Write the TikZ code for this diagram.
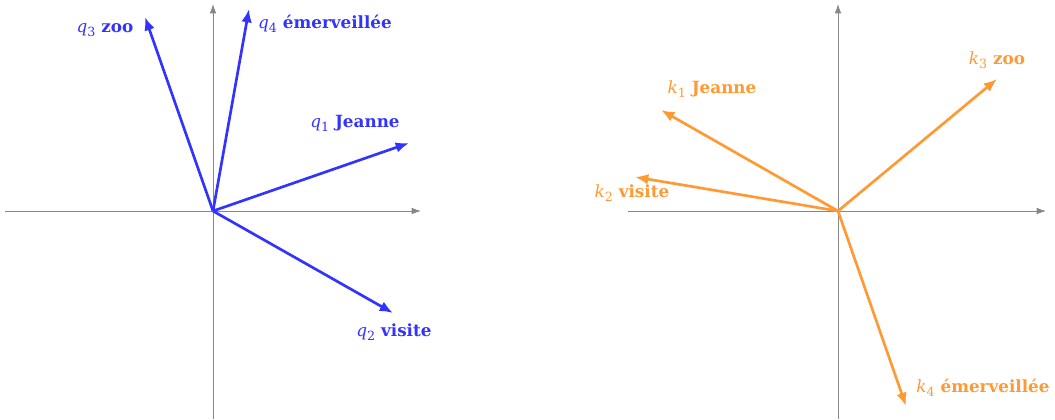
\documentclass[tikz,border=0pt]{standalone}
\usepackage{fontspec}
\setmainfont{DejaVu Serif}
\usetikzlibrary{arrows.meta}
\definecolor{qblue}{RGB}{51,51,255}
\definecolor{korange}{RGB}{255,153,51}
\definecolor{axisgray}{RGB}{135,135,135}
\newcommand\vlab[3]{\textit{#1}\raisebox{-0.45ex}{\fontsize{9.5}{10}\selectfont #2}\hspace{0.35em}\textbf{#3}}
\tikzset{
  axisline/.style={draw=axisgray, line width=0.7pt, -{Latex[length=7pt,width=5pt]}},
  qvec/.style={draw=qblue, line width=2pt, -{Latex[length=10pt,width=8pt]}},
  kvec/.style={draw=korange, line width=2pt, -{Latex[length=10pt,width=8pt]}},
  qlab/.style={text=qblue, font=\fontsize{12.6}{14}\selectfont, inner sep=0pt},
  klab/.style={text=korange, font=\fontsize{12.6}{14}\selectfont, inner sep=0pt},
}
\begin{document}
\begin{tikzpicture}[x=0.75pt, y=-0.75pt]
\useasboundingbox (0,0) rectangle (1055,419);
% left panel
\coordinate (oL) at (213,211);
\coordinate (axLw) at (5,211);
\coordinate (axLe) at (421,211);
\coordinate (axLs) at (213,419);
\coordinate (axLn) at (213,4);
\draw[axisline] (axLw) -- (axLe);
\draw[axisline] (axLs) -- (axLn);
\coordinate (q1) at (409,143);
\coordinate (q2) at (393,313);
\coordinate (q3) at (145,17);
\coordinate (q4) at (249,9);
\draw[qvec] (oL) -- (q1);
\draw[qvec] (oL) -- (q2);
\draw[qvec] (oL) -- (q3);
\draw[qvec] (oL) -- (q4);
\node[qlab] (lq1) at (355,123) {\vlab{q}{1}{Jeanne}};
\node[qlab] (lq2) at (394,332) {\vlab{q}{2}{visite}};
\node[qlab] (lq3) at (105,30) {\vlab{q}{3}{zoo}};
\node[qlab] (lq4) at (325,24) {\vlab{q}{4}{émerveillée}};
% right panel
\coordinate (oR) at (838,211);
\coordinate (axRw) at (628,211);
\coordinate (axRe) at (1046,211);
\coordinate (axRs) at (838,419);
\coordinate (axRn) at (838,4);
\draw[axisline] (axRw) -- (axRe);
\draw[axisline] (axRs) -- (axRn);
\coordinate (k1) at (661,110);
\coordinate (k2) at (635,177);
\coordinate (k3) at (997,79);
\coordinate (k4) at (906,406);
\draw[kvec] (oR) -- (k1);
\draw[kvec] (oR) -- (k2);
\draw[kvec] (oR) -- (k3);
\draw[kvec] (oR) -- (k4);
\node[klab] (lk1) at (712,89) {\vlab{k}{1}{Jeanne}};
\node[klab] (lk2) at (632,193) {\vlab{k}{2}{visite}};
\node[klab] (lk3) at (997,60) {\vlab{k}{3}{zoo}};
\node[klab] (lk4) at (983,388) {\vlab{k}{4}{émerveillée}};
\end{tikzpicture}
\end{document}
